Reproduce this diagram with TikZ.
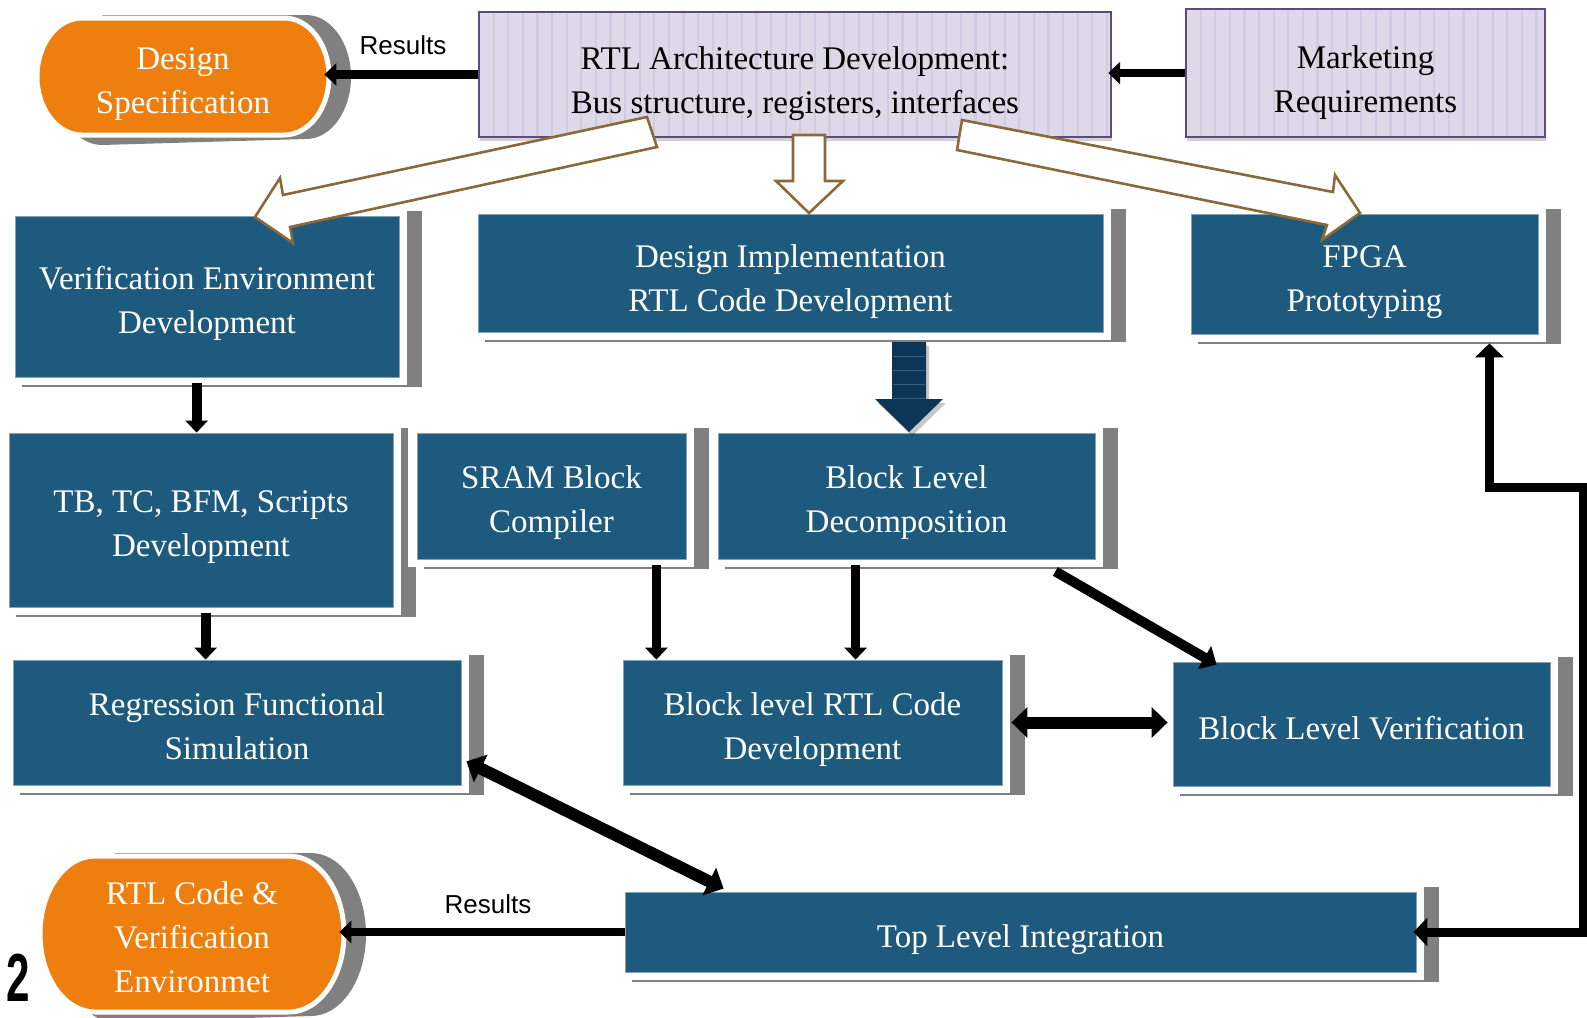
\documentclass[tikz,border=0pt]{standalone}
\usepackage{fontspec}
\setmainfont{Liberation Serif}
\newfontfamily\sansfnt{Liberation Sans}
\usetikzlibrary{arrows.meta,shadows,calc}
\definecolor{myorange}{HTML}{EE7F0F}
\definecolor{myblue}{HTML}{1E5A7D}
\definecolor{mylav}{HTML}{DED9E8}
\definecolor{mystripe}{HTML}{D2CBE0}
\definecolor{mypurple}{HTML}{5E4B7D}
\definecolor{shgray}{HTML}{808080}
\definecolor{mybrown}{HTML}{8A6A3A}
\definecolor{mynavy}{HTML}{0C3658}
\newcommand\txtsz{\fontsize{16.5}{22}\selectfont}
% blue box with offset grey shadow: name, L, T, R, B, text yshift, text (image pixel coordinates)
\newcommand\bluebx[7]{%
  \fill[shgray] ({#2+7},{#3-5}) rectangle ({#4+23},{#5+10});
  \fill[white] ({#2-9},{#3-9}) rectangle ({#4+8},{#5+8});
  \node[bbx, minimum width={(#4-#2)*0.5pt}, minimum height={(#5-#3)*0.5pt}] (#1) at ({(#2+#4)/2},{(#3+#5)/2}) {};
  \node[wtxt] (#1t) at ([yshift=#6]#1.center) {#7};
}
% stadium path: options, L, T, R, B, rx
\newcommand\stadpth[6]{%
  \path[#1] ({#2+#6},#3) -- ({#4-#6},#3)
    arc[start angle=90,end angle=-90,x radius={#6*0.5pt},y radius={(#5-#3)*0.25pt}]
    -- ({#2+#6},#5)
    arc[start angle=-90,end angle=-270,x radius={#6*0.5pt},y radius={(#5-#3)*0.25pt}] -- cycle;
}
% stadium with shadow: name, L, T, R, B, rx, text yshift, text
\newcommand\stadbx[8]{%
  \stadpth{fill=shgray}{#2+20}{#3-3}{#4+22}{#5+10}{#6}
  \stadpth{fill=myorange,draw=white,line width=2.5pt}{#2}{#3}{#4}{#5}{#6}
  \node[inner sep=0pt, minimum width={(#4-#2)*0.5pt}, minimum height={(#5-#3)*0.5pt}] (#1) at ({(#2+#4)/2},{(#3+#5)/2}) {};
  \node[wtxt] (#1t) at ([yshift=#7]#1.center) {#8};
}
\begin{document}
\begin{tikzpicture}[x=0.5pt,y=-0.5pt,
  bbx/.style={fill=myblue, draw=myblue!55!white, line width=0.4pt, inner sep=0pt},
  wtxt/.style={text=white, align=center, inner sep=0pt, font=\txtsz},
  btxt/.style={text=black, align=center, inner sep=0pt, font=\txtsz},
  lav/.style={fill=mylav, draw=mypurple, line width=1.2pt, inner sep=0pt,
    drop shadow={opacity=0.35, shadow xshift=0.6pt, shadow yshift=-2.2pt},
    path picture={\foreach \k in {1,...,46}{\draw[mystripe, line width=1.1pt] ([xshift=\k*7.3pt]path picture bounding box.north west) -- ([xshift=\k*7.3pt]path picture bounding box.south west);}}},
  hollow/.style={fill=white, draw=mybrown, line width=1.3pt, line join=miter},
  lbl/.style={font=\sansfnt\fontsize{13}{15}\selectfont, inner sep=0pt},
  connA/.style={line width=4.2pt, -{Triangle[length=6pt,width=11pt]}},
  connC/.style={line width=5pt, -{Triangle[length=6pt,width=11pt]}},
  connE/.style={line width=4.5pt, -{Triangle[length=6pt,width=11pt]}},
  connG/.style={line width=5pt, -{Triangle[length=7pt,width=13pt]}},
  connD/.style={line width=6pt, {Triangle[length=8pt,width=15pt]}-{Triangle[length=8pt,width=15pt]}},
  connK/.style={line width=4.5pt, {Triangle[length=7pt,width=14pt]}-{Triangle[length=7pt,width=14pt]}}
]
\useasboundingbox (0,0) rectangle (1587,1018);
\fill[white] (0,0) rectangle (1587,1018);

% terminators
\stadbx{spec}{37}{18}{329}{135}{45}{-4pt}{Design\\Specification}
\stadbx{rtlc}{40}{856}{344}{1012}{55}{-1.5pt}{RTL Code \&\\Verification\\Environmet}

% top boxes
\node[lav, minimum width=316pt, minimum height=62.5pt] (arch) at (795,74.5) {};
\node[btxt] (archt) at ([yshift=-4.5pt]arch.center) {RTL Architecture Development:\\Bus structure, registers, interfaces};
\node[lav, minimum width=179.5pt, minimum height=64pt] (mkt) at (1365.5,73) {};
\node[btxt] (mktt) at ([yshift=-5pt]mkt.center) {Marketing\\Requirements};

% blue boxes
\bluebx{ve}{15}{216}{399}{377}{-3.5pt}{Verification Environment\\Development}
\bluebx{di}{478}{214}{1103}{332}{-4.5pt}{Design Implementation\\RTL Code Development}
\bluebx{fpga}{1191}{214}{1538}{334}{-4pt}{FPGA\\Prototyping}
\bluebx{tb}{9}{433}{393}{607}{-3.5pt}{TB, TC, BFM, Scripts\\Development}
\bluebx{sram}{417}{433}{686}{559}{-3.5pt}{SRAM Block\\Compiler}
\bluebx{decomp}{718}{433}{1095}{559}{-3.5pt}{Block Level\\Decomposition}
\bluebx{reg}{13}{660}{461}{785}{-2pt}{Regression Functional\\Simulation}
\bluebx{brtl}{623}{660}{1002}{785}{-3.5pt}{Block level RTL Code\\Development}
\bluebx{blv}{1173}{662}{1550}{786}{-2pt}{Block Level Verification}
\bluebx{tli}{625}{892}{1416}{972}{-4pt}{Top Level Integration}

% hollow block arrows from the architecture box
\draw[hollow] (647,117) -- (283,195) -- (280,178) -- (255,217) -- (293,243) -- (290,227) -- (657,147) -- cycle;
\draw[hollow] (793,135) -- (825,135) -- (825,181) -- (843,181) -- (809,213) -- (776,181) -- (793,181) -- cycle;
\draw[hollow] (962,120) -- (1333,192) -- (1335,175) -- (1360,213) -- (1322,240) -- (1327,225) -- (957,150) -- cycle;

% navy block arrow
\fill[black, opacity=0.22] (895,346) -- (929,346) -- (929,403) -- (946,403) -- (912,436) -- (878,403) -- (895,403) -- cycle;
\fill[mynavy] (892,342) -- (926,342) -- (926,399) -- (943,399) -- (909,432) -- (875,399) -- (892,399) -- cycle;
\foreach \yy in {356,370,384,398}{\draw[mynavy!80!white, line width=0.4pt] (893,\yy) -- (925,\yy);}

% black connectors
\draw[connA, shorten >=-2.5pt] (arch.west) -- (arch.west -| spec.east);
\node[lbl] (res1) at (403,45) {Results};
\draw[connA, shorten >=-2pt] (mkt.west) -- (mkt.west -| arch.east);

\coordinate (c1) at ([xshift=91pt]ve.south west);
\draw[connC, shorten <=3pt] (c1) -- (c1 |- tb.north);
\coordinate (c2) at ([xshift=98.5pt]tb.south west);
\draw[connC, shorten <=3pt] (c2) -- (c2 |- reg.north);
\coordinate (c3) at ([xshift=-15pt]sram.south east);
\draw[connE, shorten <=3pt] (c3) -- (c3 |- brtl.north);
\coordinate (c4) at ([xshift=69pt]decomp.south west);
\draw[connE, shorten <=3pt] (c4) -- (c4 |- brtl.north);
\draw[connG] ([xshift=-20pt,yshift=-6pt]decomp.south east) -- ([xshift=22pt,yshift=-1.5pt]blv.north west);
\draw[connD, shorten <=4.5pt, shorten >=2.5pt] (brtl.east) -- (brtl.east -| blv.west);
\draw[connD] ([xshift=2.5pt,yshift=12pt]reg.south east) -- ([xshift=49.5pt,yshift=1.5pt]tli.north west);
\draw[connA, shorten >=-2.5pt] (tli.west) -- (tli.west -| rtlc.east);
\node[lbl] (res2) at (488,904) {Results};
\draw[connK, shorten <=-1.5pt, shorten >=4.5pt] (tli.east) -| (1583,487) -| ([xshift=-24.5pt]fpga.south east);

% stray page number
\node[font=\sansfnt\bfseries\fontsize{34}{34}\selectfont, inner sep=0pt] (two) at (18,978) {\scalebox{0.62}[1]{2}};
\end{tikzpicture}
\end{document}
